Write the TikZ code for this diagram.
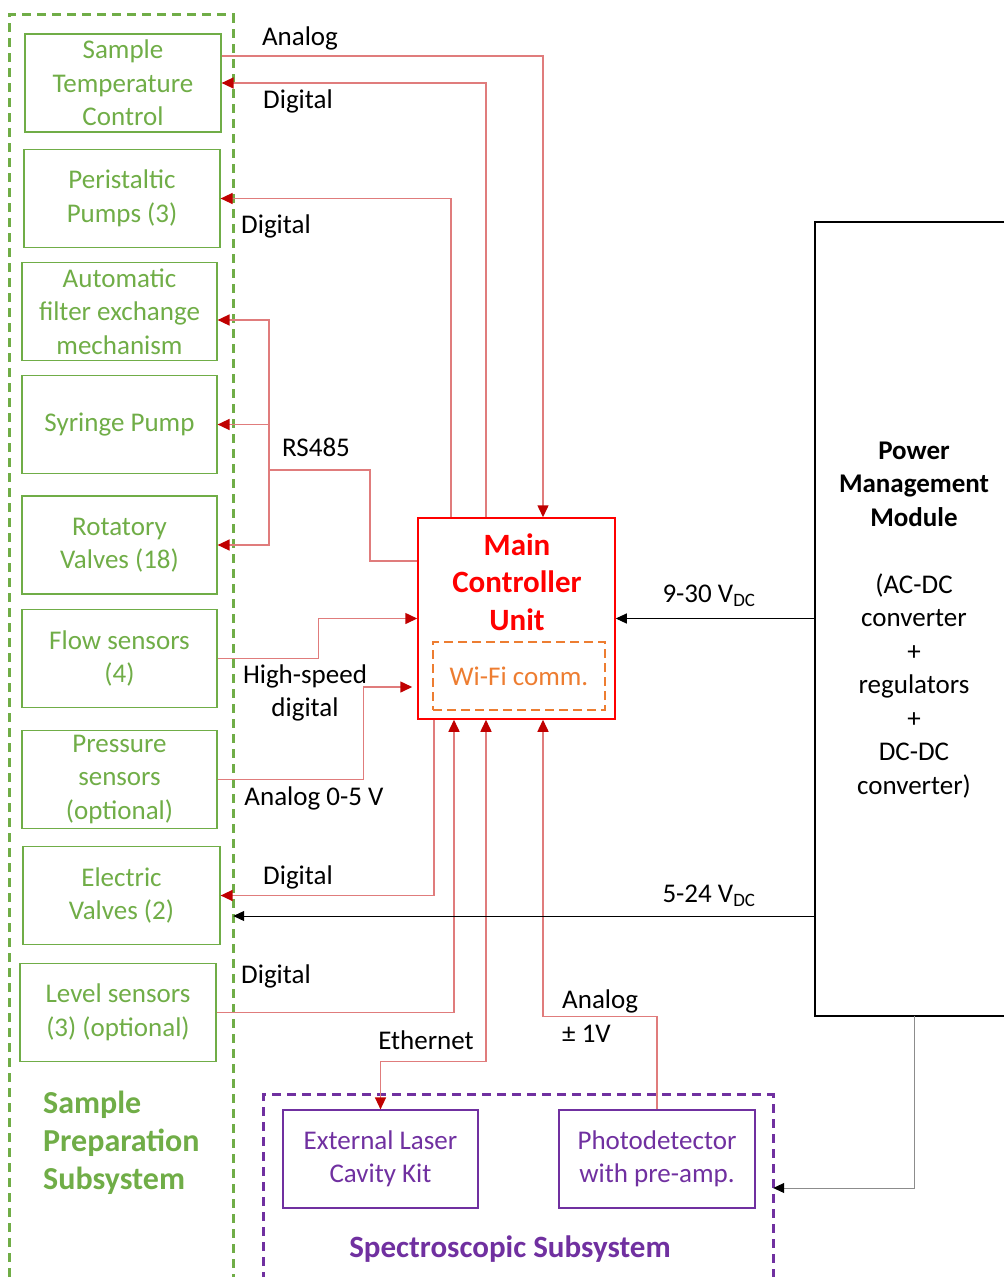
\documentclass[tikz,border=0pt]{standalone}
\usepackage{fontspec}
\setmainfont{Carlito}
\usetikzlibrary{arrows.meta}
\definecolor{boxgreen}{RGB}{112,173,71}
\definecolor{boxpurple}{RGB}{112,48,160}
\definecolor{wifiorange}{RGB}{237,125,49}
\definecolor{linered}{RGB}{224,124,124}
\definecolor{tipred}{RGB}{192,0,0}
\definecolor{mcured}{RGB}{255,0,0}
\definecolor{feedgray}{RGB}{140,140,140}

\begin{document}
\begin{tikzpicture}[x=1pt, y=-1pt]
    % Styles
    \tikzstyle{txt} = [font=\fontsize{27}{33.5}\selectfont, inner sep=0pt, align=center]
    \tikzstyle{unit} = [txt, rectangle, draw=boxgreen, line width=1.2pt, text=boxgreen, minimum width=196pt, minimum height=98pt]
    \tikzstyle{optic} = [txt, rectangle, draw=boxpurple, line width=1.2pt, text=boxpurple, minimum width=196pt, minimum height=98pt]
    \tikzstyle{frame} = [rectangle, inner sep=0pt]
    \tikzstyle{wire} = [draw=linered, line width=1.5pt]
    \tikzstyle{arrow} = [wire, -{Triangle[length=12pt, width=11pt, color=tipred]}]
    \tikzstyle{supply} = [draw=black, line width=1pt, -{Triangle[length=11pt, width=10pt, color=black]}]

    \useasboundingbox (0,0) rectangle (1004,1277);

    % Subsystem frames
    \node[frame, minimum width=223pt, minimum height=1262pt] (prep) at (121.5,646) {};
    \draw[boxgreen, line width=3pt, dash pattern=on 9pt off 6pt]
        (prep.south west) -- (prep.north west) -- (prep.north east) -- (prep.south east);
    \node[txt, anchor=west, align=left, text=boxgreen, font=\fontsize{32}{38}\selectfont\bfseries] (preptitle) at (43,1143) {Sample\\Preparation\\Subsystem};

    \node[frame, minimum width=509pt, minimum height=186pt] (spec) at (518.5,1188) {};
    \draw[boxpurple, line width=3pt, dash pattern=on 9pt off 6pt]
        (spec.south west) -- (spec.north west) -- (spec.north east) -- (spec.south east);
    \node[txt, text=boxpurple, font=\fontsize{31}{36}\selectfont\bfseries] (spectitle) at (510,1249) {Spectroscopic Subsystem};

    % Nodes
    \node[unit] (temp) at (123,83) {Sample\\Temperature\\Control};
    \node[unit] (pumps) at (122,198.5) {Peristaltic\\Pumps (3)};
    \node[unit, minimum width=195pt] (filter) at (119.5,311.5) {Automatic\\filter exchange\\mechanism};
    \node[unit, minimum width=195pt] (syringe) at (119.5,424.5) {Syringe Pump};
    \node[unit, minimum width=195pt] (rotatory) at (119.5,545) {Rotatory\\Valves (18)};
    \node[unit, minimum width=195pt] (flow) at (119.5,658.5) {Flow sensors\\(4)};
    \node[unit, minimum width=195pt] (pressure) at (119.5,779.5) {Pressure\\sensors\\(optional)};
    \node[unit, minimum width=197pt] (valves) at (121.5,895.5) {Electric\\Valves (2)};
    \node[unit] (level) at (118,1012.5) {Level sensors\\(3) (optional)};

    \node[optic, minimum width=195pt] (laser) at (380.5,1159) {External Laser\\Cavity Kit};
    \node[optic] (photo) at (657,1159) {Photodetector\\with pre-amp.};

    \node[frame, draw=mcured, line width=1.5pt, minimum width=197pt, minimum height=201pt] (mcu) at (516.5,618.5) {};
    \node[txt, text=mcured, font=\fontsize{31}{37.5}\selectfont\bfseries] (mcutitle) at (517,582) {Main\\Controller\\Unit};
    \node[txt, draw=wifiorange, text=wifiorange, line width=1.3pt, dash pattern=on 9pt off 5pt, minimum width=172pt, minimum height=68pt] (wifi) at (519,676) {Wi-Fi comm.};

    \node[frame, minimum width=189pt, minimum height=794pt] (pmm) at (909.5,619) {};
    \draw[black, line width=1.5pt] (pmm.north east) -- (pmm.north west) -- (pmm.south west) -- (pmm.south east);
    \node[txt] (pmmtext) at (914,620) {\textbf{Power}\\\textbf{Management}\\\textbf{Module}\\[33.5pt](AC-DC\\converter\\+\\regulators\\+\\DC-DC\\converter)};

    % Arrows
    \draw[arrow] ([yshift=27pt]temp.east) -| ([xshift=26.5pt]mcu.north);
    \draw[arrow] ([xshift=-30.5pt]mcu.north) |- (temp.east);
    \draw[arrow] ([xshift=-65.5pt]mcu.north) |- (pumps.east);

    \coordinate (bus) at (269,470);
    \draw[wire] ([yshift=57.5pt]mcu.west) -| (370,470) -- (bus);
    \draw[arrow] (bus) |- ([yshift=-8.5pt]filter.east);
    \draw[arrow] (bus) |- (syringe.east);
    \draw[arrow] (bus) |- (rotatory.east);

    \draw[arrow] (flow.east) -- ++(101,0) |- (mcu.west);
    \draw[arrow] (pressure.east) -- ++(146,0) |- ([xshift=-5pt, yshift=-68.5pt]mcu.west);
    \draw[arrow] ([xshift=-82.5pt]mcu.south) |- (valves.east);
    \draw[arrow] (level.east) -| ([xshift=-62.5pt]mcu.south);
    \draw[wire, {Triangle[length=12pt, width=11pt, color=tipred]}-{Triangle[length=12pt, width=11pt, color=tipred]}]
        (laser.north) -- ++(0,-48) -| ([xshift=-30.5pt]mcu.south);
    \draw[arrow] (photo.north) -- ++(0,-93) -| ([xshift=26.5pt]mcu.south);

    \coordinate (p930) at (pmm.west |- mcu.east);
    \coordinate (p524) at ([yshift=-297pt]pmm.west);
    \draw[supply] (p930) -- (mcu.east);
    \draw[supply] (p524) -- (p524 -| prep.east);
    \draw[supply, draw=feedgray] ([xshift=4.5pt]pmm.south) |- (spec.east);

    % Labels
    \node[txt] (lanalog) at (300,38) {Analog};
    \node[txt] (ldigtemp) at (298,101) {Digital};
    \node[txt] (ldigpump) at (276,226) {Digital};
    \node[txt] (lrs) at (316,447) {RS485};
    \node[txt] (lhigh) at (305,693) {High-speed\\digital};
    \node[txt] (lanalog5) at (314,798) {Analog 0-5 V};
    \node[txt] (ldigvalve) at (298,877) {Digital};
    \node[txt] (ldiglevel) at (276,976) {Digital};
    \node[txt] (leth) at (426,1040) {Ethernet};
    \node[txt, anchor=west, align=left] (lanalog1) at (562,1016) {Analog\\± 1V};
    \node[txt] (l930) at (709,596) {9-30 V\textsubscript{DC}};
    \node[txt] (l524) at (709,896) {5-24 V\textsubscript{DC}};
\end{tikzpicture}
\end{document}
